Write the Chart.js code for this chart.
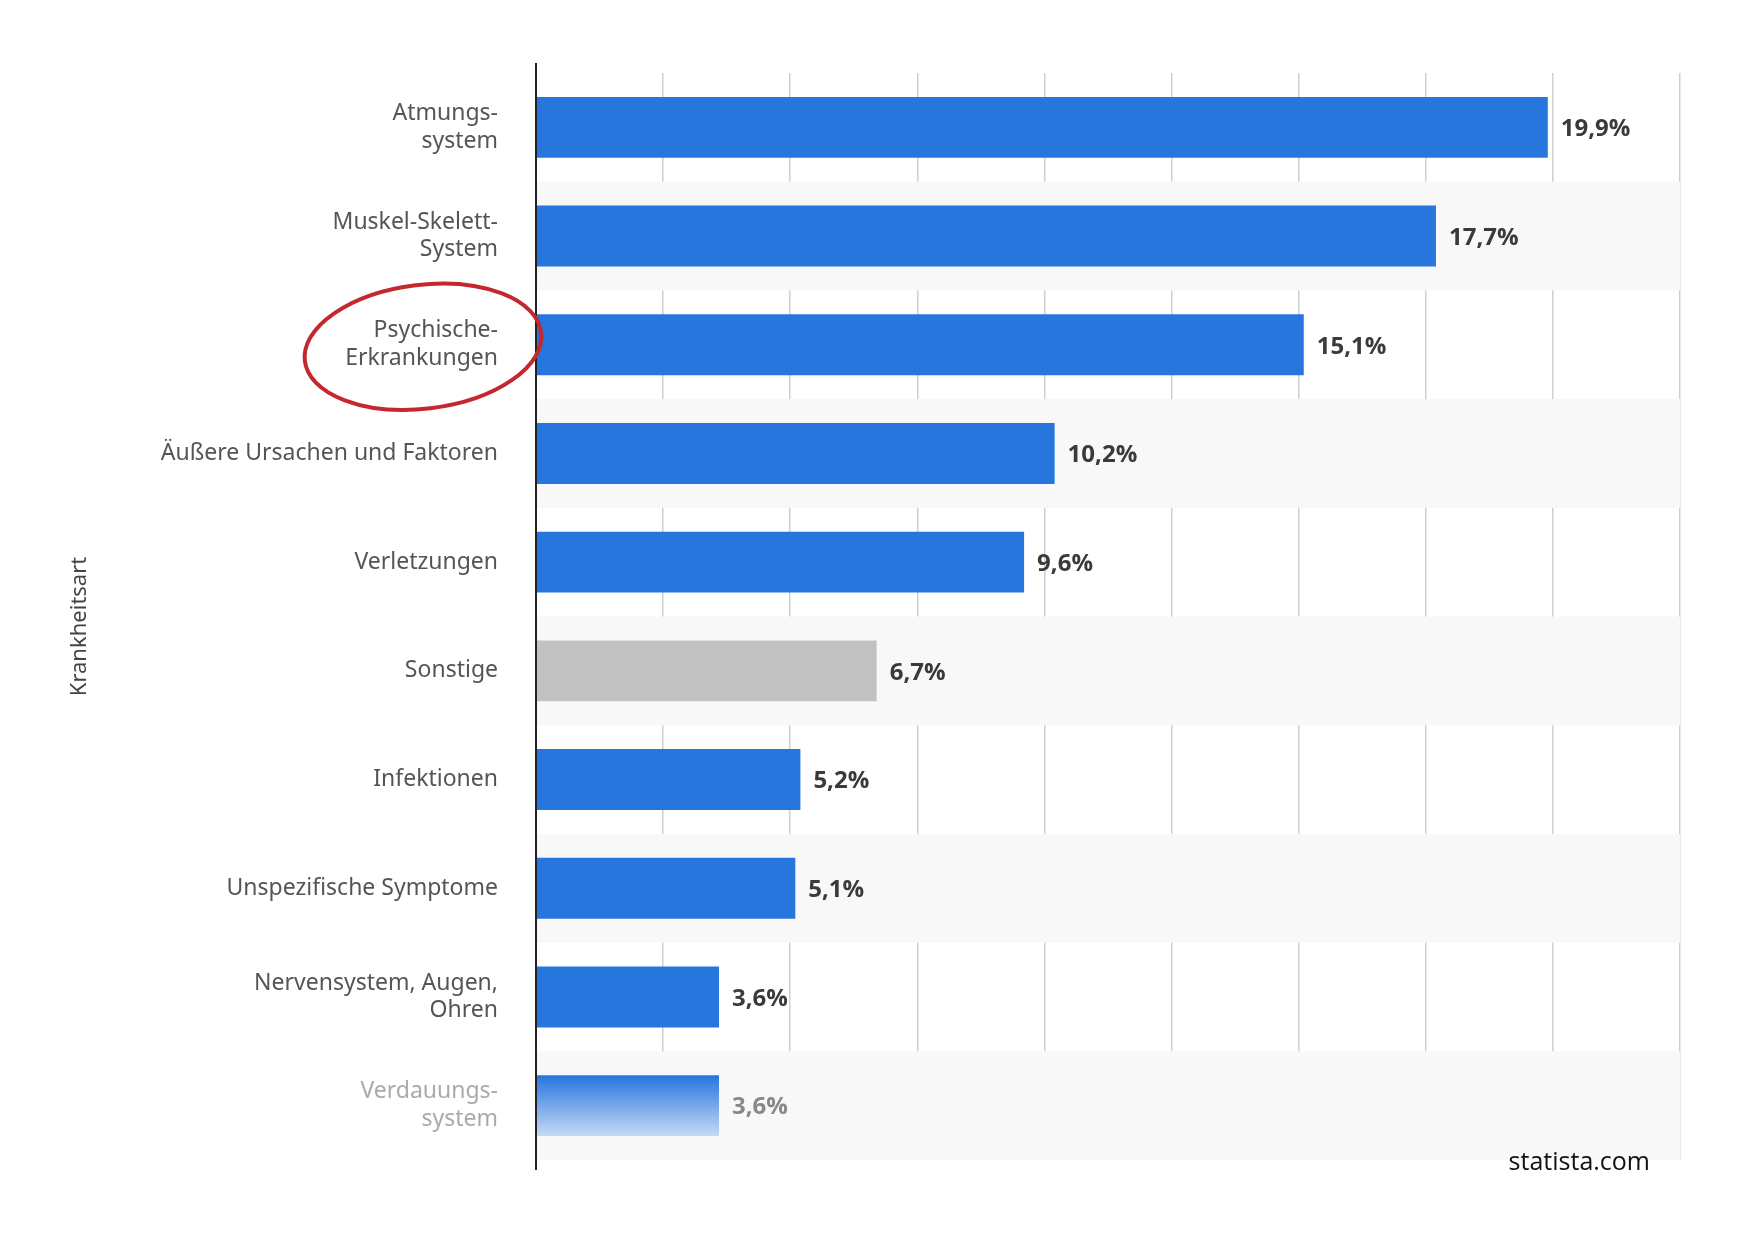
<!DOCTYPE html>
<html><head><meta charset="utf-8">
<script src="https://cdn.jsdelivr.net/npm/chart.js@4"></script>
<style>html,body{margin:0;padding:0;background:#fff}#w{width:1748px;height:1240px}</style>
</head><body><div id="w"><canvas id="c"></canvas></div>
<script>
const categories = [["Atmungs-","system"],["Muskel-Skelett-","System"],["Psychische-","Erkrankungen"],"Äußere Ursachen und Faktoren","Verletzungen","Sonstige","Infektionen","Unspezifische Symptome",["Nervensystem, Augen,","Ohren"],["Verdauungs-","system"]];
const values = [19.9,17.7,15.1,10.2,9.6,6.7,5.2,5.1,3.6,3.6];
const valueLabels = ["19,9%","17,7%","15,1%","10,2%","9,6%","6,7%","5,2%","5,1%","3,6%","3,6%"];
const axisTitle = "Krankheitsart";
const blue = '#2776dd', grey = '#c1c1c1';

const plugin = {
  id:'extra',
  beforeDatasetsDraw(chart){
    const {ctx, chartArea:a, scales:{y}} = chart;
    const h = (a.bottom-a.top)/categories.length;
    ctx.save(); ctx.fillStyle='#f8f8f8';
    for(let i=1;i<categories.length;i+=2){ ctx.fillRect(a.left, a.top+i*h, a.right-a.left, h); }
    ctx.restore();
  },
  afterDraw(chart){
    const {ctx, chartArea:a, scales:{x,y}} = chart;
    ctx.save();
    ctx.font='bold 24px "Open Sans"'; ctx.textBaseline='middle';
    values.forEach((v,i)=>{ ctx.fillStyle = i===9?'#888':'#3a3a3a'; ctx.fillText(valueLabels[i], x.getPixelForValue(v)+13, y.getPixelForValue(i)+2); });
    // axis line
    ctx.strokeStyle='#222'; ctx.lineWidth=2; ctx.beginPath(); ctx.moveTo(a.left,a.top-10); ctx.lineTo(a.left,a.bottom+10); ctx.stroke();
    // title
    ctx.translate(80,(a.top+a.bottom)/2+10); ctx.rotate(-Math.PI/2);
    ctx.fillStyle='#444'; ctx.font='22px "Noto Sans"'; ctx.textAlign='center'; ctx.fillText(axisTitle,0,0);
    ctx.setTransform(1,0,0,1,0,0);
    // circle
    ctx.strokeStyle='#c4282e'; ctx.lineWidth=4; ctx.beginPath();
    ctx.ellipse(423, y.getPixelForValue(2)+2, 119, 62, -0.12, 0, Math.PI*2); ctx.stroke();
    ctx.fillStyle='#111'; ctx.font='25px "Open Sans"'; ctx.textAlign='right'; ctx.textBaseline='alphabetic';
    ctx.fillText('statista.com', 1650, 1170);
    ctx.restore();
  }
};

new Chart(document.getElementById('c'), {
  type:'bar',
  data:{labels:categories, datasets:[{data:values, barPercentage:0.56, categoryPercentage:1,
    backgroundColor:(c)=>{
      const i=c.dataIndex; if(i===5) return grey;
      if(i===9 && c.chart.chartArea){ const y=c.chart.scales.y.getPixelForValue(9);
        const g=c.chart.ctx.createLinearGradient(0,y-30,0,y+30); g.addColorStop(0,blue); g.addColorStop(1,'#c5d9f5'); return g; }
      return blue; }}]},
  plugins:[plugin],
  options:{indexAxis:'y', responsive:true, maintainAspectRatio:false, animation:false,
    layout:{padding:{top:73,bottom:80,right:68,left:0}},
    plugins:{legend:{display:false},tooltip:{enabled:false}},
    scales:{
      x:{min:0,max:22.5,ticks:{display:false,stepSize:2.5},border:{display:false},
        grid:{color:'#cfcfcf',lineWidth:1.5,drawTicks:false,tickBorderDash:[2,3]},
      },
      y:{grid:{display:false},border:{display:false},
        afterFit:(s)=>{s.width=536;},
        ticks:{padding:30,color:(c)=>c.index===9?'#aaa':'#555',font:{family:'"Noto Sans"',size:23}}}
    }
  }
});
Chart.defaults.font.family='"Noto Sans"';
</script></body></html>
